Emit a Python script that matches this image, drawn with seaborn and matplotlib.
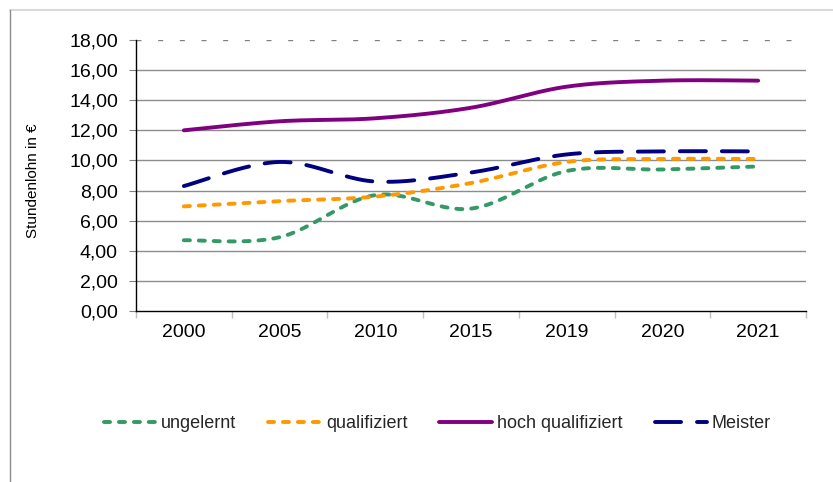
import numpy as np
import pandas as pd
import matplotlib
matplotlib.use("Agg")
import matplotlib.pyplot as plt
from matplotlib.lines import Line2D
import seaborn as sns

# ---- data ----
years = ['2000', '2005', '2010', '2015', '2019', '2020', '2021']
ungelernt = [4.7, 4.9, 7.7, 6.8, 9.3, 9.4, 9.6]
qualifiziert = [6.95, 7.3, 7.6, 8.5, 9.9, 10.1, 10.1]
hoch_qualifiziert = [12.0, 12.6, 12.8, 13.5, 14.9, 15.3, 15.3]
meister = [8.3, 9.9, 8.6, 9.2, 10.4, 10.6, 10.6]
series_names = ['ungelernt', 'qualifiziert', 'hoch qualifiziert', 'Meister']
y_ticks = [0, 2, 4, 6, 8, 10, 12, 14, 16, 18]
y_label = 'Stundenlohn in €'

sns.set_theme(style='white')
plt.rcParams['font.family'] = ['Liberation Sans', 'DejaVu Sans']


def smooth(values, n=40):
    """Excel-like smoothed line (Catmull-Rom Bezier) through the category points."""
    P = np.column_stack([np.arange(len(values), dtype=float), np.asarray(values, float)])
    Pe = np.vstack([P[0], P, P[-1]])
    t = np.linspace(0, 1, n)[:, None]
    out = []
    for i in range(len(values) - 1):
        p0, p1, p2, p3 = Pe[i], Pe[i + 1], Pe[i + 2], Pe[i + 3]
        c1 = p1 + (p2 - p0) / 6.0
        c2 = p2 - (p3 - p1) / 6.0
        seg = (1 - t) ** 3 * p1 + 3 * (1 - t) ** 2 * t * c1 + 3 * (1 - t) * t ** 2 * c2 + t ** 3 * p2
        out.append(seg if i == 0 else seg[1:])
    return np.vstack(out)


fig = plt.figure(figsize=(8.33, 4.82), dpi=100)
fig.patch.set_facecolor('white')
ax = fig.add_axes([136 / 833, (482 - 311) / 482, 670 / 833, 271 / 482])

ax.set_xlim(-0.5, 6.5)
ax.set_ylim(0, 18)

# gridlines
for yv in y_ticks[1:-1]:
    ax.axhline(yv, color='#8c8c8c', lw=1.0, zorder=0)
ax.axhline(18, color='#808080', lw=1.0, linestyle=(0, (3.6, 12)), zorder=0)

styles = [
    (ungelernt, '#339966', (1.56, 2.28)),
    (qualifiziert, '#FF9900', (1.56, 2.28)),
    (hoch_qualifiziert, '#800080', None),
    (meister, '#000080', (6.7, 4.1)),
]
lw = 2.8
for name, (vals, color, dash) in zip(series_names, styles):
    xy = smooth(vals)
    sns.lineplot(x=xy[:, 0], y=xy[:, 1], ax=ax, color=color, lw=lw, sort=False,
                 estimator=None, label=name)
    line = ax.lines[-1]
    if dash is not None:
        line.set_dashes(dash)
        line.set_dash_capstyle('round')
    else:
        line.set_solid_capstyle('round')
    line.set_zorder(3)

if ax.get_legend() is not None:
    ax.get_legend().remove()

# axes styling
for s in ['top', 'right']:
    ax.spines[s].set_visible(False)
for s in ['left', 'bottom']:
    ax.spines[s].set_color('black')
    ax.spines[s].set_linewidth(1.0)

ax.set_yticks(y_ticks)
ax.set_yticklabels([f"{v:.2f}".replace('.', ',') for v in y_ticks])
ax.tick_params(axis='y', which='major', length=5, width=0.8, color='#808080',
               pad=8, labelsize=14, labelcolor='black', left=True)

ax.set_xticks(range(len(years)))
ax.set_xticklabels(years)
ax.set_xticks(np.arange(-0.5, len(years), 1.0), minor=True)
ax.tick_params(axis='x', which='major', length=0, pad=9.5, labelsize=14, labelcolor='black')
ax.tick_params(axis='x', which='minor', length=5, width=1.0, color='#bfbfbf', bottom=True)
ax.set_xlabel('')
ax.set_ylabel('')

fig.text(33 / 833, 1 - 181 / 482, y_label, rotation=90, ha='center', va='center',
         fontsize=11, color='black')

handles, labels = ax.get_legend_handles_labels()
fig.legend(handles, labels, loc='center', bbox_to_anchor=(0.525, 1 - 424 / 482),
           ncol=4, frameon=False, fontsize=13, handlelength=2.9, handletextpad=0.28,
           columnspacing=1.78)

# outer chart frame (partial, as in the reference)
fig.add_artist(Line2D([10 / 833, 1.0], [1 - 10 / 482] * 2, color='#d9d9d9', lw=1.5,
                      transform=fig.transFigure))
fig.add_artist(Line2D([10 / 833] * 2, [0.0, 1 - 10 / 482], color='#8c8c8c', lw=1.0,
                      transform=fig.transFigure))

fig.savefig('out.png', dpi=100, facecolor='white')
